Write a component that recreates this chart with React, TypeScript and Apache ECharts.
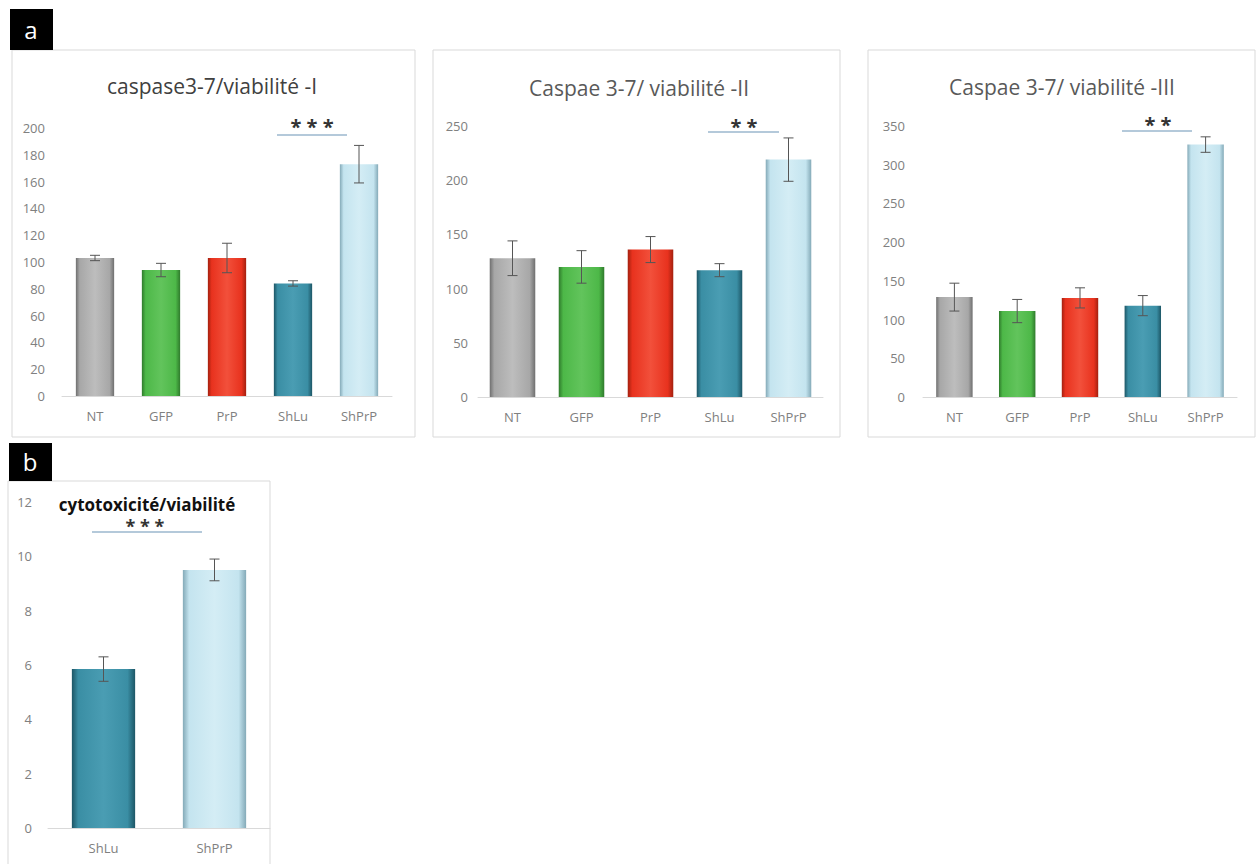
import React, { useEffect, useRef } from "react";
import * as echarts from "echarts";

const categories = ["NT", "GFP", "PrP", "ShLu", "ShPrP"];
const valuesI = [103, 94, 103, 84, 173];
const errorsI = [2, 5, 11, 2, 14];
const valuesII = [128, 120, 136, 117, 219];
const errorsII = [16, 15, 12, 6, 20];
const valuesIII = [129, 111, 128, 118, 326];
const errorsIII = [18, 15, 13, 13, 10];
const categoriesB = ["ShLu", "ShPrP"];
const valuesB = [5.85, 9.5];
const errorsB = [0.45, 0.4];

const titles = ["caspase3-7/viabilité -I", "Caspae 3-7/ viabilité -II", "Caspae 3-7/ viabilité -III", "cytotoxicité/viabilité"];
const stars = ["* * *", "* *", "* *", "* * *"];

const palette: Record<string, [string, string, string]> = {
  NT: ["#6f6f6f", "#a7a7a7", "#bdbdbd"],
  GFP: ["#2f7a2c", "#4db848", "#62c45c"],
  PrP: ["#a3200f", "#e8321e", "#f2503b"],
  ShLu: ["#1d5666", "#3a8ea4", "#4a9db3"],
  ShPrP: ["#84aab8", "#c4e4ef", "#d4edf5"],
};

function grad(cat: string) {
  const [edge, base, light] = palette[cat];
  return new echarts.graphic.LinearGradient(0, 0, 1, 0, [
    { offset: 0, color: edge },
    { offset: 0.1, color: base },
    { offset: 0.5, color: light },
    { offset: 0.88, color: base },
    { offset: 1, color: edge },
  ]);
}

const axisLabelColor = "#808080";
const fontFamily = "'Open Sans', 'Noto Sans', sans-serif";

function errorRender(params: any, api: any) {
  const x = api.value(0);
  const v = api.value(1);
  const e = api.value(2);
  const top = api.coord([x, v + e]);
  const bot = api.coord([x, v - e]);
  const cap = 5;
  const style = { stroke: "#555555", lineWidth: 1 };
  return {
    type: "group",
    children: [
      { type: "line", shape: { x1: top[0], y1: top[1], x2: bot[0], y2: bot[1] }, style },
      { type: "line", shape: { x1: top[0] - cap, y1: top[1], x2: top[0] + cap, y2: top[1] }, style },
      { type: "line", shape: { x1: bot[0] - cap, y1: bot[1], x2: bot[0] + cap, y2: bot[1] }, style },
    ],
  };
}

export default function App() {
  const ref = useRef<HTMLDivElement>(null);
  useEffect(() => {
    if (!ref.current) return;
    const chart = echarts.init(ref.current, undefined, { renderer: "svg" });

    const panels = [
      { cats: categories, vals: valuesI, errs: errorsI, grid: { left: 62, top: 128, width: 330, height: 268 }, max: 200, interval: 20, margin: 17, gap: "42%" },
      { cats: categories, vals: valuesII, errs: errorsII, grid: { left: 478, top: 126, width: 345, height: 271 }, max: 250, interval: 50, margin: 10, gap: "34%" },
      { cats: categories, vals: valuesIII, errs: errorsIII, grid: { left: 923, top: 126, width: 314, height: 271 }, max: 350, interval: 50, margin: 18, gap: "42%" },
      { cats: categoriesB, vals: valuesB, errs: errorsB, grid: { left: 48, top: 502, width: 222, height: 326 }, max: 12, interval: 2, margin: 16, gap: "43%" },
    ];

    const grid = panels.map((p) => ({ ...p.grid, containLabel: false }));
    const xAxis = panels.map((p, i) => ({
      type: "category",
      gridIndex: i,
      data: p.cats,
      axisLine: { lineStyle: { color: "#d9d9d9" } },
      axisTick: { show: false },
      axisLabel: { color: axisLabelColor, fontSize: 13, fontFamily, margin: 13 },
    }));
    const yAxis = panels.map((p, i) => ({
      type: "value",
      gridIndex: i,
      min: 0,
      max: p.max,
      interval: p.interval,
      axisLine: { show: false },
      axisTick: { show: false },
      splitLine: { show: false },
      axisLabel: { color: axisLabelColor, fontSize: 13, fontFamily, margin: p.margin },
    }));
    const series: any[] = [];
    panels.forEach((p, i) => {
      series.push({
        type: "bar",
        xAxisIndex: i,
        yAxisIndex: i,
        barCategoryGap: p.gap,
        data: p.vals.map((v, j) => ({ value: v, itemStyle: { color: grad(p.cats[j]) } })),
      });
      series.push({
        type: "custom",
        xAxisIndex: i,
        yAxisIndex: i,
        z: 5,
        renderItem: errorRender,
        encode: { x: 0, y: 1 },
        data: p.vals.map((v, j) => [j, v, p.errs[j]]),
      });
    });

    const boxStyle = { fill: "#ffffff", stroke: "#d9d9d9", lineWidth: 1 };
    const sigColor = "#6b93b5";
    const graphic: any[] = [
      { type: "rect", shape: { x: 12, y: 50, width: 403, height: 387 }, style: boxStyle, z: -10 },
      { type: "rect", shape: { x: 433, y: 50, width: 407, height: 387 }, style: boxStyle, z: -10 },
      { type: "rect", shape: { x: 868, y: 50, width: 387, height: 387 }, style: boxStyle, z: -10 },
      { type: "rect", shape: { x: 8, y: 481, width: 262, height: 390 }, style: boxStyle, z: -10 },
      { type: "rect", shape: { x: 10, y: 9, width: 43, height: 41 }, style: { fill: "#000000" } },
      { type: "text", x: 31, y: 29, style: { text: "a", fill: "#ffffff", font: `24px ${fontFamily}`, textAlign: "center", textVerticalAlign: "middle" } },
      { type: "rect", shape: { x: 9, y: 443, width: 43, height: 38 }, style: { fill: "#000000" } },
      { type: "text", x: 30, y: 461, style: { text: "b", fill: "#ffffff", font: `24px ${fontFamily}`, textAlign: "center", textVerticalAlign: "middle" } },
      { type: "text", x: 212, y: 86, style: { text: titles[0], fill: "#404040", font: `21px ${fontFamily}`, textAlign: "center", textVerticalAlign: "middle" } },
      { type: "text", x: 639, y: 88, style: { text: titles[1], fill: "#595959", font: `21px ${fontFamily}`, textAlign: "center", textVerticalAlign: "middle" } },
      { type: "text", x: 1062, y: 87, style: { text: titles[2], fill: "#595959", font: `21px ${fontFamily}`, textAlign: "center", textVerticalAlign: "middle" } },
      { type: "text", x: 147, y: 504, style: { text: titles[3], fill: "#111111", font: `bold 17px ${fontFamily}`, textAlign: "center", textVerticalAlign: "middle" } },
      { type: "line", shape: { x1: 277, y1: 135, x2: 347, y2: 135 }, style: { stroke: sigColor, lineWidth: 1.2 } },
      { type: "line", shape: { x1: 708, y1: 132, x2: 779, y2: 132 }, style: { stroke: sigColor, lineWidth: 1.2 } },
      { type: "line", shape: { x1: 1122, y1: 131, x2: 1192, y2: 131 }, style: { stroke: sigColor, lineWidth: 1.2 } },
      { type: "line", shape: { x1: 92, y1: 532, x2: 202, y2: 532 }, style: { stroke: sigColor, lineWidth: 1.2 } },
      { type: "text", x: 312, y: 126, style: { text: stars[0], fill: "#333333", font: `bold 20px ${fontFamily}`, textAlign: "center", textVerticalAlign: "middle" } },
      { type: "text", x: 744, y: 126, style: { text: stars[1], fill: "#333333", font: `bold 20px ${fontFamily}`, textAlign: "center", textVerticalAlign: "middle" } },
      { type: "text", x: 1158, y: 124, style: { text: stars[2], fill: "#333333", font: `bold 20px ${fontFamily}`, textAlign: "center", textVerticalAlign: "middle" } },
      { type: "text", x: 145, y: 526, style: { text: stars[3], fill: "#333333", font: `bold 18px ${fontFamily}`, textAlign: "center", textVerticalAlign: "middle" } },
    ];

    chart.setOption({
      animation: false,
      backgroundColor: "#ffffff",
      grid,
      xAxis,
      yAxis,
      series,
      graphic,
    });
    return () => chart.dispose();
  }, []);
  return <div ref={ref} style={{ position: "absolute", left: 0, top: 0, width: 1259, height: 864 }} />;
}
